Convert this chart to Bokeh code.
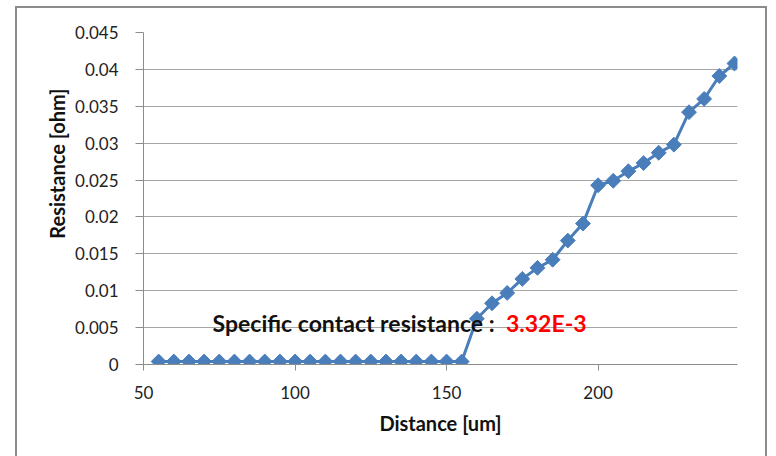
from bokeh.plotting import figure
from bokeh.models import Range1d, FixedTicker, Label, Title, InlineStyleSheet
from bokeh.embed import file_html
from bokeh.resources import INLINE

distance = [55, 60, 65, 70, 75, 80, 85, 90, 95, 100, 105, 110, 115, 120, 125,
            130, 135, 140, 145, 150, 155, 160, 165, 170, 175, 180, 185, 190,
            195, 200, 205, 210, 215, 220, 225, 230, 235, 240, 245]
resistance = [0.0004, 0.0004, 0.0004, 0.0004, 0.0004, 0.0004, 0.0004, 0.0004,
              0.0004, 0.0004, 0.0004, 0.0004, 0.0004, 0.0004, 0.0004, 0.0004,
              0.0004, 0.0004, 0.0004, 0.0004, 0.0004, 0.0062, 0.0083, 0.0097,
              0.0116, 0.0131, 0.0142, 0.0168, 0.0191, 0.0243, 0.0249, 0.0262,
              0.0273, 0.0287, 0.0298, 0.0342, 0.0360, 0.0391, 0.0408]

x_ticks = [50, 100, 150, 200]
y_ticks = [0, 0.005, 0.01, 0.015, 0.02, 0.025, 0.03, 0.035, 0.04, 0.045]
y_tick_labels = ["0", "0.005", "0.01", "0.015", "0.02", "0.025", "0.03",
                 "0.035", "0.04", "0.045"]

x_title = "Distance [um]"
y_title = "Resistance [ohm]"
annotation_text = "Specific contact resistance : "
annotation_value = "3.32E-3"

FONT = "Lato"
BLUE = "#4a7ebb"

p = figure(width=776, height=456, output_backend="svg", toolbar_location=None,
           x_range=Range1d(50, 246), y_range=Range1d(0, 0.045),
           min_border_left=143, min_border_right=39, min_border_top=32,
           min_border_bottom=92)
p.outline_line_color = None
p.background_fill_color = "white"
p.border_fill_color = "white"

p.xgrid.grid_line_color = None
p.ygrid.grid_line_color = "#a6a6a6"
p.ygrid.grid_line_width = 1
p.ygrid.ticker = FixedTicker(ticks=y_ticks)

# axes
p.xaxis.ticker = FixedTicker(ticks=x_ticks)
p.yaxis.ticker = FixedTicker(ticks=y_ticks)
p.yaxis.major_label_overrides = {t: l for t, l in zip(y_ticks, y_tick_labels)}

for ax in (p.xaxis, p.yaxis):
    ax.axis_line_color = "#8c8c8c"
    ax.axis_line_width = 1
    ax.major_tick_line_color = "#8c8c8c"
    ax.major_tick_in = 0
    ax.minor_tick_line_color = None
    ax.major_label_text_font = FONT
    ax.major_label_text_font_size = "17px"
    ax.major_label_text_color = "#222222"
    ax.axis_label_text_font = FONT
    ax.axis_label_text_font_style = "bold"
    ax.axis_label_text_font_size = "20px"
    ax.axis_label_text_color = "#111111"

p.xaxis.major_tick_out = 6
p.xaxis.major_label_standoff = 15
p.xaxis.axis_label = x_title
p.xaxis.axis_label_standoff = 9

p.yaxis.major_tick_out = 8
p.yaxis.major_label_standoff = 17

# y title placed nearer the top, as in the reference
p.add_layout(Title(text=y_title, align="right", offset=56, standoff=8,
                   text_font=FONT, text_font_style="bold",
                   text_font_size="20px", text_color="#111111"), "left")

# data
p.line(distance, resistance, line_color=BLUE, line_width=3)
p.scatter(distance, resistance, marker="square", size=10.5, angle=0.785398,
          fill_color=BLUE, line_color=BLUE)

# annotation
p.add_layout(Label(x=72.8, y=0.0056, text=annotation_text, text_font=FONT,
                   text_font_style="bold", text_font_size="23px",
                   text_color="#111111", text_baseline="alphabetic"))
p.add_layout(Label(x=169.6, y=0.0056, text=annotation_value, text_font=FONT,
                   text_font_style="bold", text_font_size="23px",
                   text_color="#ff0000", text_baseline="alphabetic"))

# chart area border
p.stylesheets = [InlineStyleSheet(css="""
:host { position: relative; overflow: visible; }
:host::after {
  content: ""; position: absolute; left: 15px; top: 6px;
  width: 752px; height: 470px; border: 2px solid #8c8c8c;
  pointer-events: none; box-sizing: border-box;
}
""")]

open("out.html", "w").write(file_html(p, INLINE))
